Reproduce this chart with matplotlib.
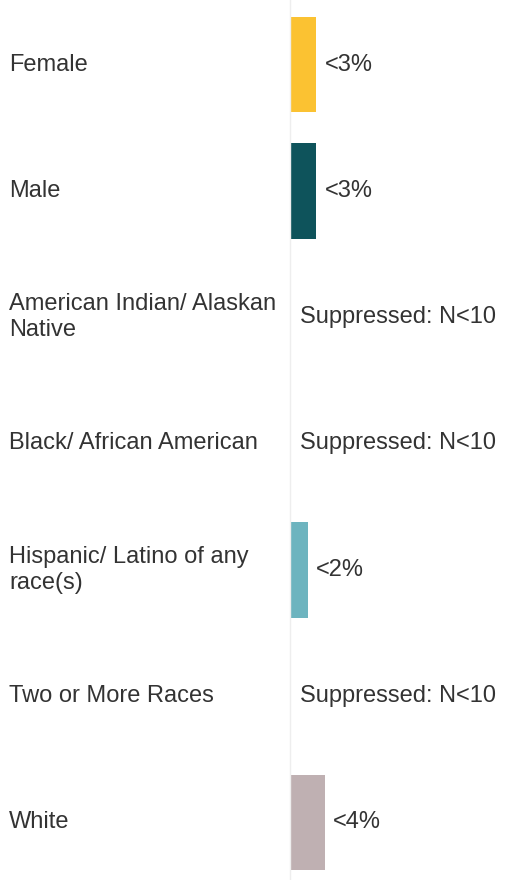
import matplotlib
matplotlib.use("Agg")
import matplotlib.pyplot as plt
import matplotlib.transforms as mtransforms

# rows, top to bottom
categories = ["Female", "Male", "American Indian/ Alaskan\nNative",
              "Black/ African American", "Hispanic/ Latino of any\nrace(s)",
              "Two or More Races", "White"]
values = [3, 3, None, None, 2, None, 4]          # None = suppressed
value_labels = ["<3%", "<3%", "Suppressed: N<10", "Suppressed: N<10",
                "<2%", "Suppressed: N<10", "<4%"]
colors = ["#FBC232", "#0E535B", None, None, "#6DB4BF", None, "#BFB0B2"]

plt.rcParams['font.family'] = ['Liberation Sans', 'DejaVu Sans']

fig = plt.figure(figsize=(5.2, 8.8), dpi=100)
ax = fig.add_axes([291 / 520, 0, 229 / 520, 1])
ax.set_xlim(0, 27.3)
pitch = 126.33
ax.set_ylim((880 - 64.5) / pitch, -64.5 / pitch)
ax.axis('off')

# thin grey baseline on the left of the bars
fig.add_artist(plt.Line2D([290 / 520, 290 / 520], [0, 1], color="#eeeeee", lw=1))

label_tr = mtransforms.blended_transform_factory(fig.transFigure, ax.transData)
text_color = "#333333"

for i, (cat, v, lab, c) in enumerate(zip(categories, values, value_labels, colors)):
    ax.text(9 / 520, i, cat, transform=label_tr, ha='left', va='center',
            fontsize=17, color=text_color, linespacing=1.2)
    if v is None:
        ax.text(1.07, i, lab, ha='left', va='center', fontsize=17, color=text_color)
    else:
        ax.barh(i, v, height=0.755, color=c, left=0)
        ax.annotate(lab, xy=(v, i), xytext=(6, 0), textcoords='offset points',
                    ha='left', va='center', fontsize=17, color=text_color)

fig.savefig("out.png", dpi=100)
